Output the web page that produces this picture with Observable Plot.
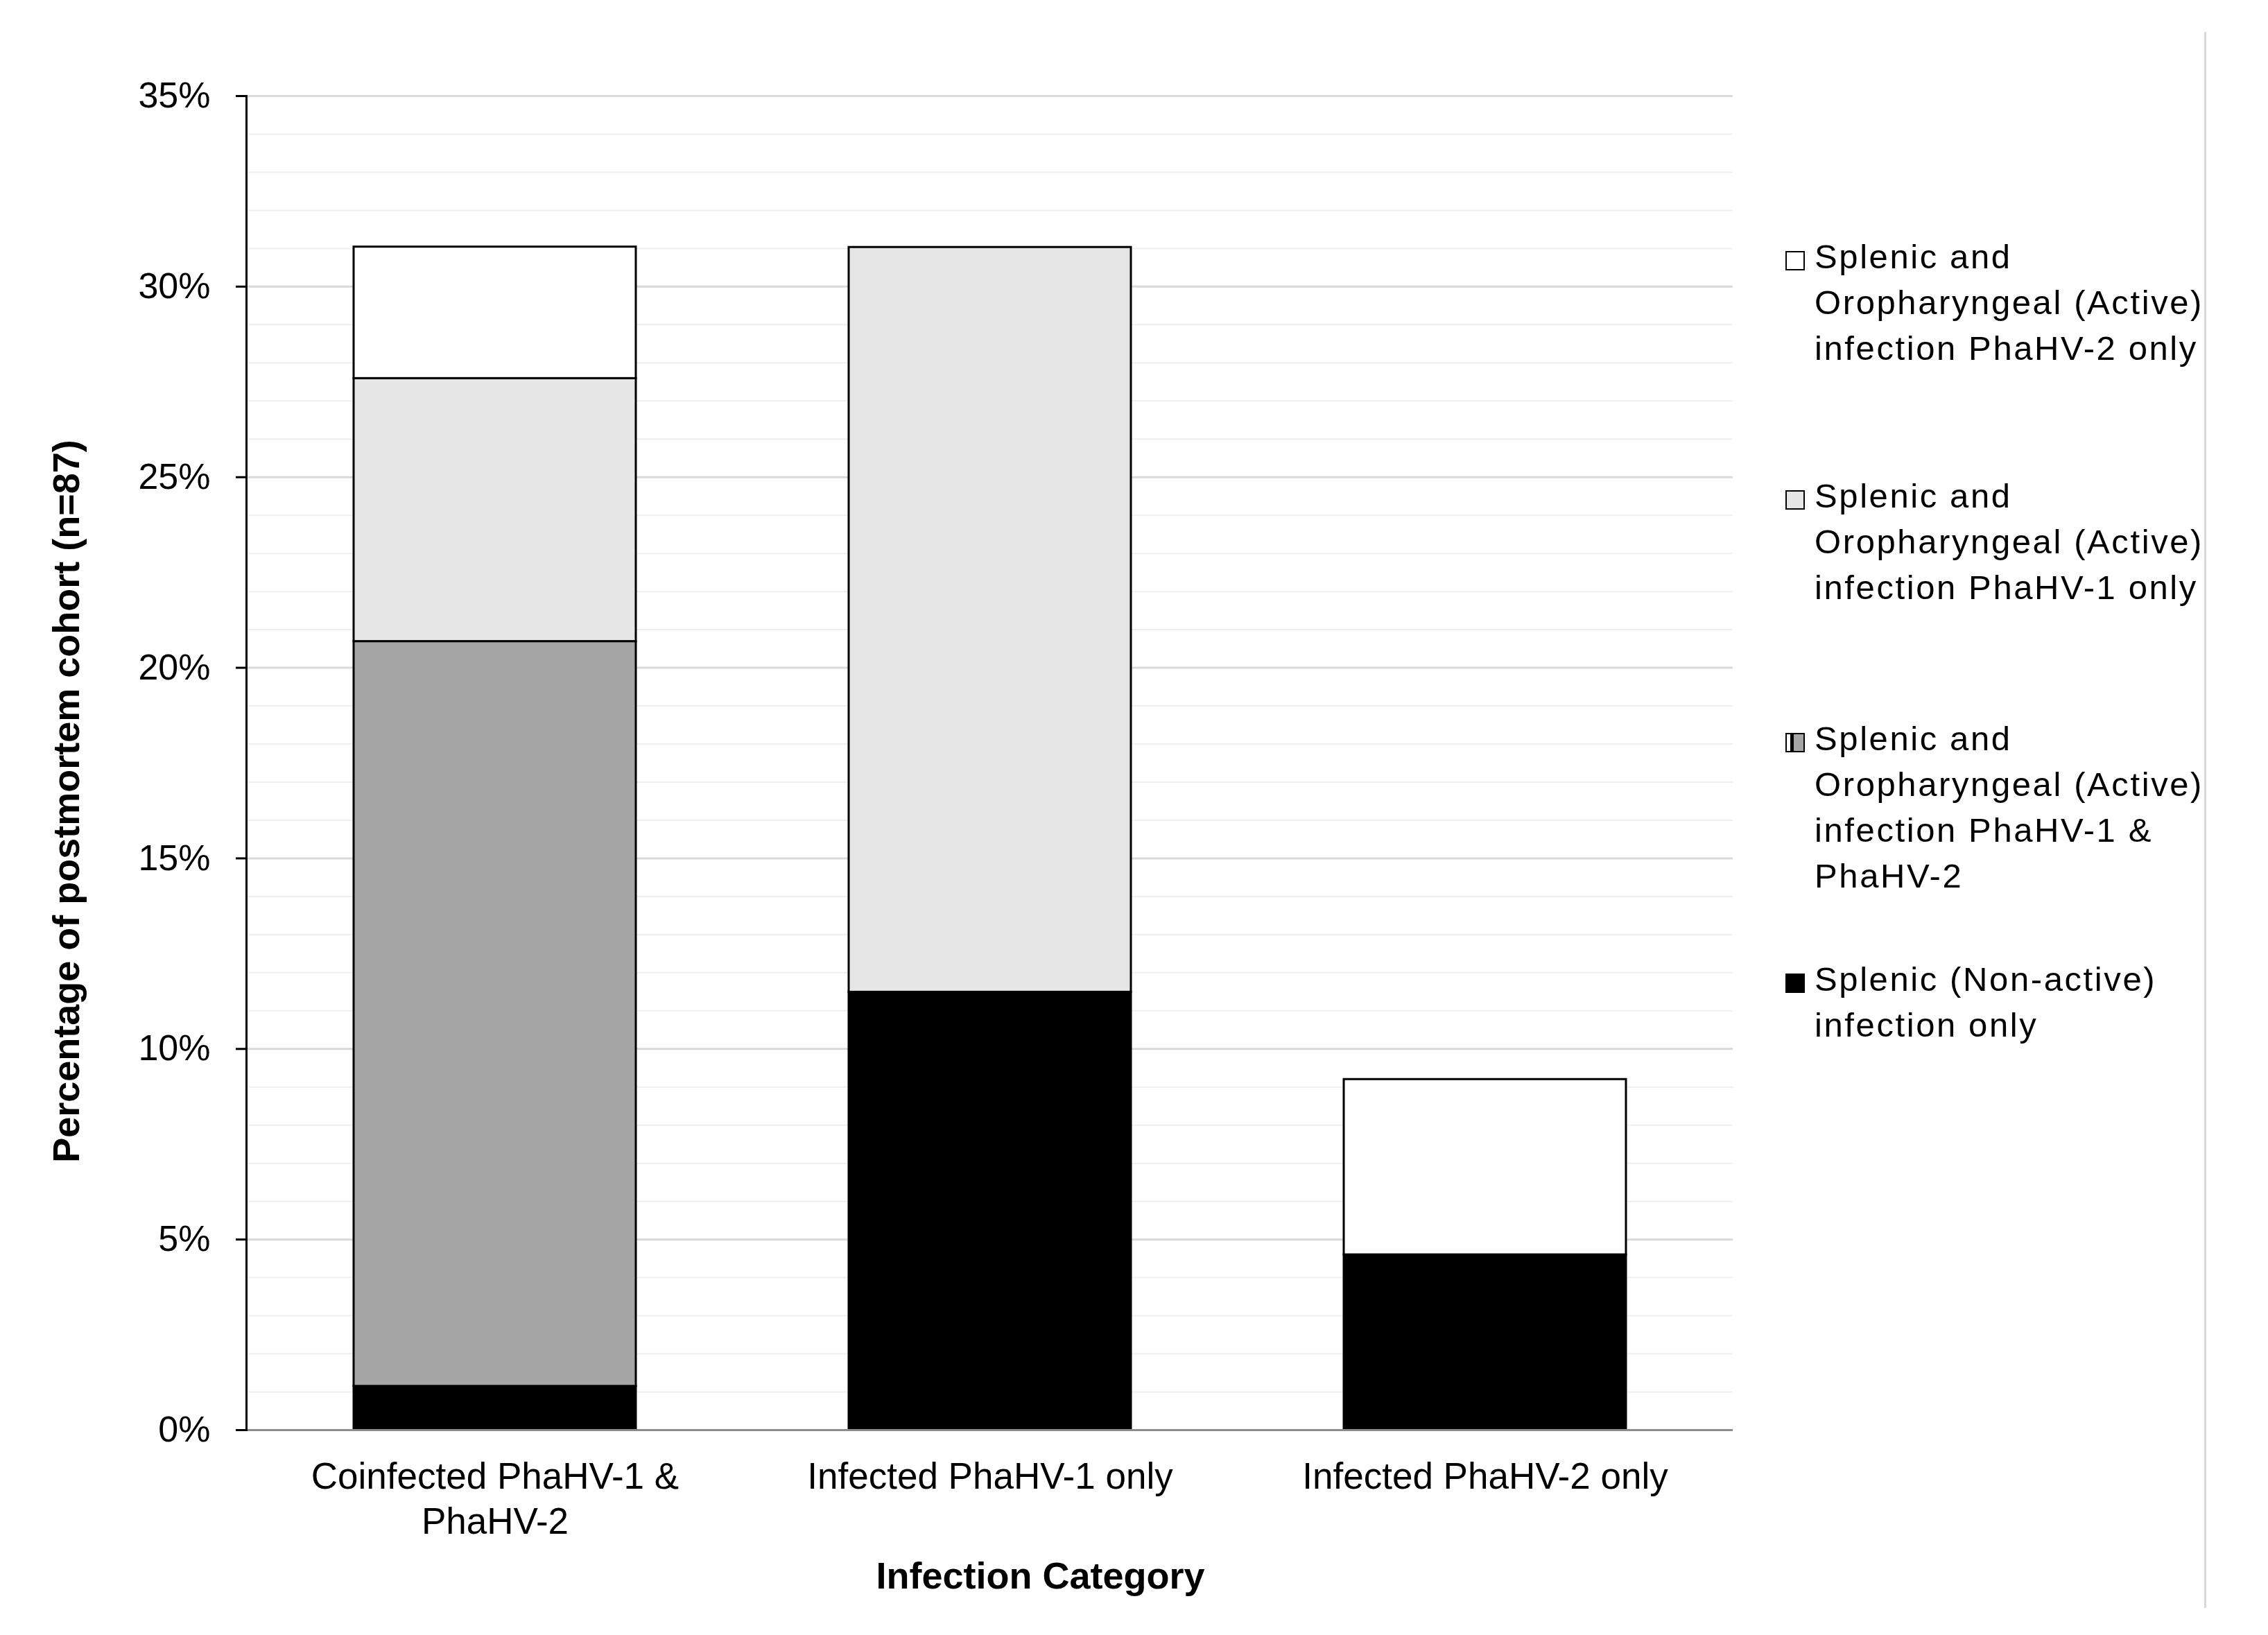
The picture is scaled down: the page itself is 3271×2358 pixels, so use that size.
<!DOCTYPE html>
<html><head><meta charset="utf-8">
<script src="https://cdn.jsdelivr.net/npm/d3@7"></script>
<script src="https://cdn.jsdelivr.net/npm/@observablehq/plot@0.6"></script>
<style>
body{margin:0;background:#fff;}
#wrap{position:relative;width:3271px;height:2358px;overflow:hidden;font-family:"Liberation Sans",Arial,sans-serif;background:#fff;}
#wrap svg{position:absolute;left:0;top:0;}
.leg{position:absolute;left:2575px;font-size:49px;line-height:66px;letter-spacing:2.6px;color:#000;white-space:nowrap;}
.sw{position:absolute;left:0;top:25px;width:28px;height:28px;box-sizing:border-box;border:2.5px solid #000;}
.lt{position:absolute;left:42px;top:0;}
#border{position:absolute;left:3179px;top:46px;width:3px;height:2273px;background:#d9d9d9;}
</style></head><body><div id="wrap"></div>
<script>
// Categories (x), bottom-to-top stacked series, values in % of cohort (n=87)
const categories = ["Coinfected PhaHV-1 &\nPhaHV-2", "Infected PhaHV-1 only", "Infected PhaHV-2 only"];
const series = [
  "Splenic (Non-active) infection only",
  "Splenic and Oropharyngeal (Active) infection PhaHV-1 & PhaHV-2",
  "Splenic and Oropharyngeal (Active) infection PhaHV-1 only",
  "Splenic and Oropharyngeal (Active) infection PhaHV-2 only"
];
const nonActive  = [1.15, 11.49, 4.60];
const activeBoth = [19.54, 0, 0];
const activeHV1  = [6.90, 19.54, 0];
const activeHV2  = [3.45, 0, 4.60];
const seriesColors = ["#000000", "#a6a6a6", "#e6e6e6", "#ffffff"];
const yTicks = [0, 5, 10, 15, 20, 25, 30, 35];
const yTickLabels = ["0%", "5%", "10%", "15%", "20%", "25%", "30%", "35%"];
const yMinor = [1,2,3,4,6,7,8,9,11,12,13,14,16,17,18,19,21,22,23,24,26,27,28,29,31,32,33,34];
const yTitle = "Percentage of postmortem cohort (n=87)";
const xTitle = "Infection Category";
// legend (top to bottom), with line breaks as in the reference
const legendOrder = [3, 2, 1, 0];
const legendLines = [
  ["Splenic (Non-active)", "infection only"],
  ["Splenic and", "Oropharyngeal (Active)", "infection PhaHV-1 &", "PhaHV-2"],
  ["Splenic and", "Oropharyngeal (Active)", "infection PhaHV-1 only"],
  ["Splenic and", "Oropharyngeal (Active)", "infection PhaHV-2 only"]
];
const legendTops = [337, 682, 1032, 1379];

const values = [nonActive, activeBoth, activeHV1, activeHV2];
const rows = [];
categories.forEach((c, i) => {
  series.forEach((s, j) => {
    const v = values[j][i];
    if (v > 0) rows.push({category: c, series: s, value: v});
  });
});

const font = '"Liberation Sans", Arial, sans-serif';
const chart = Plot.plot({
  width: 3271, height: 2358,
  marginLeft: 355, marginRight: 772, marginTop: 138, marginBottom: 296,
  style: {fontFamily: font, background: "transparent", color: "#000", overflow: "visible"},
  x: {domain: categories, paddingInner: 0.43, paddingOuter: 0.215, label: null},
  y: {domain: [0, 35], label: null},
  color: {domain: series, range: seriesColors},
  marks: [
    Plot.ruleY(yMinor, {stroke: "#efefef", strokeWidth: 2}),
    Plot.ruleY(yTicks, {stroke: "#d9d9d9", strokeWidth: 3}),
    Plot.barY(rows, {x: "category", y: "value", fill: "series", stroke: "#000", strokeWidth: 3}),
    Plot.ruleY([0], {stroke: "#8c8c8c", strokeWidth: 3}),
    Plot.frame({anchor: "left", stroke: "#000", strokeWidth: 3}),
    Plot.axisY({ticks: yTicks, tickFormat: d => yTickLabels[yTicks.indexOf(d)], tickSize: 15, tickPadding: 37,
      fontSize: 52, stroke: "#000", strokeWidth: 3, label: null}),
    Plot.axisX({tickSize: 0, tickPadding: 38, fontSize: 53, lineHeight: 1.23, label: null}),
    Plot.text([yTitle], {text: d => d, frameAnchor: "left", textAnchor: "middle", rotate: -90, dx: -259, dy: 55,
      fontSize: 54, fontWeight: "bold", fill: "#000"}),
    Plot.text([xTitle], {text: d => d, frameAnchor: "bottom", lineAnchor: "bottom", dx: 73, dy: 228,
      fontSize: 54, fontWeight: "bold", fill: "#000"})
  ]
});
const wrap = document.getElementById("wrap");
wrap.appendChild(chart);

legendOrder.forEach((si, k) => {
  const d = document.createElement("div");
  d.className = "leg";
  d.style.top = legendTops[k] + "px";
  const sw = document.createElement("div");
  sw.className = "sw";
  sw.style.background = seriesColors[si];
  if (si === 1) sw.style.background = "linear-gradient(to right, #fff 0 22%, #000 22% 40%, #a6a6a6 40%)";
  d.appendChild(sw);
  const t = document.createElement("div");
  t.className = "lt";
  t.innerHTML = legendLines[si].map(l => l.replace(/&/g, "&amp;")).join("<br>");
  d.appendChild(t);
  wrap.appendChild(d);
});
const b = document.createElement("div");
b.id = "border";
wrap.appendChild(b);
</script></body></html>
